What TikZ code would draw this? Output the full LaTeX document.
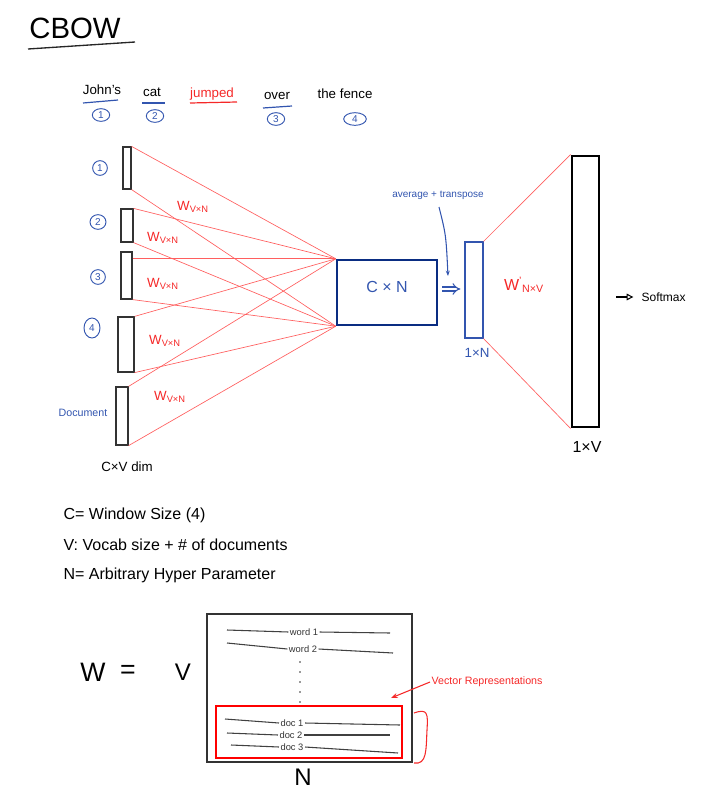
\documentclass[tikz,border=0pt]{standalone}
\usepackage{fontspec}
\setmainfont{Liberation Sans}
\usetikzlibrary{fit,shapes.geometric,arrows.meta}
\definecolor{hblue}{RGB}{50,85,175}
\definecolor{navy}{RGB}{10,45,130}
\definecolor{hred}{RGB}{245,40,40}
\definecolor{lred}{RGB}{255,95,95}
\begin{document}
\begin{tikzpicture}[x=0.75pt,y=-0.75pt,
  txt/.style={inner sep=1pt, font=\fontsize{#1}{#1}\selectfont},
  txt/.default=10,
  cnum/.style={draw=hblue, text=hblue, ellipse, line width=0.7pt, inner sep=0.3pt, minimum width=13pt, minimum height=9.5pt, font=\fontsize{7.5}{8}\selectfont},
  vecbox/.style={draw=black!80, line width=0.9pt, inner sep=0pt},
  conn/.style={draw=lred, line width=0.5pt},
  wlab/.style={text=hred, inner sep=1pt, font=\fontsize{10}{10}\selectfont},
  uline/.style={line width=0.9pt},
  mrow/.style={draw=black!75, line width=0.8pt},
  mtxt/.style={inner sep=1pt, font=\fontsize{7}{7}\selectfont, text=black!80}
]
\useasboundingbox (0,0) rectangle (705,800);

% title
\node[txt=22] (title) at (75,28) {CBOW};
\draw[uline, black!85, line width=1pt] (28,49) -- (135,42);

% sentence
\node[txt=10] (w1) at (102,90) {John's};
\node[txt=10] (w2) at (152,92) {cat};
\node[txt=10, text=hred] (w3) at (212,94) {jumped};
\node[txt=10] (w4) at (277,96) {over};
\node[txt=10] (w5) at (345,94) {the fence};
\draw[uline, hblue] (83,103) -- (118,100);
\draw[uline, hblue] (142,103) -- (165,103);
\draw[uline, hred] (190,103) -- (237,102);
\draw[uline, hblue] (263,108) -- (292,106);
\node[cnum] (s1) at (101,115) {1};
\node[cnum] (s2) at (155,116) {2};
\node[cnum] (s3) at (276,119) {3};
\node[cnum, minimum width=17pt] (s4) at (355,119) {4};

% input vectors
\node[vecbox, fit={(123,147) (131,189)}] (v1) {};
\node[vecbox, fit={(121,209) (133,242)}] (v2) {};
\node[vecbox, fit={(121,252) (132,299)}] (v3) {};
\node[vecbox, fit={(118,317) (134,372)}] (v4) {};
\node[vecbox, fit={(116,387) (128,445)}] (v5) {};

\node[cnum, minimum width=11pt, minimum height=11pt] (l1) at (100,168) {1};
\node[cnum, minimum width=12pt, minimum height=11pt] (l2) at (98,222) {2};
\node[cnum, minimum width=11pt, minimum height=11pt] (l3) at (98,277) {3};
\node[cnum, minimum width=12pt, minimum height=15pt] (l4) at (92,328) {4};
\node[txt=8, text=hblue] (doc) at (83,413) {Document};
\node[txt=10] (cvdim) at (127,467) {C×V dim};

% C x N box
\node[draw=navy, line width=1.8pt, inner sep=0pt, fit={(337,260) (437,325)}, text=hblue, font=\fontsize{12}{12}\selectfont] (cn) {C × N};

% connectors
\draw[conn] (v1.north east) -- (cn.north west);
\draw[conn] (v1.south east) -- (cn.south west);
\draw[conn] (v2.north east) -- (cn.north west);
\draw[conn] (v2.south east) -- (cn.south west);
\draw[conn] (v3.east |- cn.north west) -- (cn.north west);
\draw[conn] (v3.south east) -- (cn.south west);
\draw[conn] (v4.north east) -- (cn.north west);
\draw[conn] (v4.south east) -- (cn.south west);
\draw[conn] (v5.north east) -- (cn.north west);
\draw[conn] (v5.south east) -- (cn.south west);

\node[wlab] (wa) at (193,207) {W\textsubscript{V×N}};
\node[wlab] (wb) at (163,238) {W\textsubscript{V×N}};
\node[wlab] (wc) at (163,284) {W\textsubscript{V×N}};
\node[wlab] (wd) at (165,341) {W\textsubscript{V×N}};
\node[wlab] (we) at (170,397) {W\textsubscript{V×N}};

% hidden vector
\node[draw=hblue, line width=0.9pt, inner sep=0pt, fit={(465,242) (483,338)}] (hv) {};
\node[txt=10, text=hblue] (hvl) at (477,353) {1×N};
\draw[hblue, line width=0.8pt, double, double distance=2.2pt, -{Implies}, shorten <=3pt, shorten >=3pt] (cn.east |- 0,289) -- (hv.west |- 0,289);

\node[txt=7.5, text=hblue] (avg) at (438,195) {average + transpose};
\coordinate (avgtip) at (448,276);
\draw[hblue, line width=0.8pt, -{Stealth[length=4pt]}] (439,207) .. controls (446,235) .. (avgtip);

% output
\node[draw=black, line width=2.2pt, inner sep=0pt, fit={(572,156) (599,427)}] (out) {};
\node[txt=12] (outl) at (587,447) {1×V};
\draw[conn] (hv.north east) -- (out.north west);
\draw[conn] (hv.south east) -- (out.south west);
\node[text=hred, inner sep=1pt, font=\fontsize{12}{12}\selectfont] (wp) at (524,285) {W\textsuperscript{'}\textsubscript{N×V}};

\node[txt=9, anchor=west] (sm) at (640,297) {Softmax};
\draw[line width=0.8pt, -{Triangle[open, length=5pt, width=5pt]}, shorten <=12pt, shorten >=5pt] (out.east |- sm.west) -- (sm.west);

% definitions
\node[txt=12, anchor=west] (dc) at (62,515) {C= Window Size (4)};
\node[txt=12, anchor=west] (dv) at (62,545) {V: Vocab size + \# of documents};
\node[txt=12, anchor=west] (dn) at (62,575) {N= Arbitrary Hyper Parameter};

% matrix
\node[txt=20] (weq) at (93,672) {W};
\node[txt=20] (eq) at (128,672) {=};
\node[txt=18] (mv) at (183,672) {V};
\node[draw=black!80, line width=1pt, inner sep=0pt, fit={(207,614) (412,762)}] (M) {};
\node[txt=18] (mn) at (303,777) {N};

\node[mtxt] (r1) at (304,632) {word 1};
\node[mtxt] (r2) at (303,649) {word 2};
\draw[mrow] (227,630) -- (r1.west);
\draw[mrow] (r1.east) -- (390,633);
\draw[mrow] (227,643) -- (r2.west);
\draw[mrow] (r2.east) -- (393,653);
\foreach \yy in {662,672,682,692,702} \fill[black!80] (300,\yy) circle (0.9);

\node[draw=red, line width=1.6pt, inner sep=0pt, fit={(216,706) (402,758)}] (R) {};
\node[mtxt] (d1) at (292,723) {doc 1};
\node[mtxt] (d2) at (291,735) {doc 2};
\node[mtxt] (d3) at (292,747) {doc 3};
\draw[mrow] (225,719) -- (d1.west);
\draw[mrow] (d1.east) -- (400,725);
\draw[mrow] (227,733) -- (d2.west);
\draw[mrow] (d2.east) -- (390,735);
\draw[mrow] (231,745) -- (d3.west);
\draw[mrow] (d3.east) -- (398,753);

\draw[hred, line width=0.8pt] (414,713) .. controls (428,708) and (428,714) .. (427,730) .. controls (426,750) and (427,765) .. (414,763);
\node[txt=8, text=hred, anchor=west] (vr) at (430,682) {Vector Representations};
\coordinate (vrtip) at (391,698);
\draw[hred, line width=0.8pt, -{Stealth[length=5pt]}] (vr.west) -- (vrtip);
\end{tikzpicture}
\end{document}
